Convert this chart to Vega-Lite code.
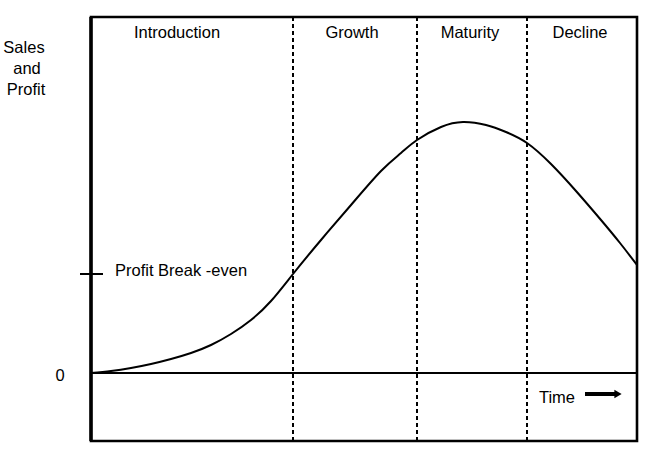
{
  "$schema": "https://vega.github.io/schema/vega-lite/v6.json",
  "width": 546,
  "height": 424,
  "autosize": "none",
  "padding": {"left": 91, "top": 17, "right": 13, "bottom": 21},
  "background": "white",
  "config": {"view": {"stroke": "black", "strokeWidth": 2.6}, "font": "Liberation Sans"},
  "datasets": {
    "curve": [
      {"t": 0, "v": 0}, {"t": 20, "v": 2}, {"t": 40, "v": 5}, {"t": 60, "v": 9},
      {"t": 80, "v": 14}, {"t": 100, "v": 20}, {"t": 120, "v": 28}, {"t": 140, "v": 39},
      {"t": 160, "v": 53}, {"t": 180, "v": 72}, {"t": 202, "v": 99}, {"t": 230, "v": 133},
      {"t": 260, "v": 168}, {"t": 290, "v": 202}, {"t": 310, "v": 220}, {"t": 326, "v": 233},
      {"t": 350, "v": 246}, {"t": 372, "v": 251}, {"t": 395, "v": 248}, {"t": 415, "v": 241},
      {"t": 436, "v": 230}, {"t": 460, "v": 209}, {"t": 485, "v": 182}, {"t": 510, "v": 153},
      {"t": 529, "v": 130}, {"t": 546, "v": 108}
    ],
    "phases": [{"t": 202}, {"t": 326}, {"t": 436}],
    "labels": [
      {"t": 86, "v": 340, "label": "Introduction"},
      {"t": 261, "v": 340, "label": "Growth"},
      {"t": 379, "v": 340, "label": "Maturity"},
      {"t": 489, "v": 340, "label": "Decline"}
    ],
    "side": [
      {"t": -67, "v": 325, "label": "Sales"},
      {"t": -64, "v": 304, "label": "and"},
      {"t": -65, "v": 283, "label": "Profit"},
      {"t": -31, "v": -3, "label": "0"}
    ]
  },
  "encoding": {
    "x": {"field": "t", "type": "quantitative", "scale": {"domain": [0, 546], "nice": false, "zero": false}, "axis": null},
    "y": {"field": "v", "type": "quantitative", "scale": {"domain": [-68, 356], "nice": false, "zero": false}, "axis": null}
  },
  "layer": [
    {
      "data": {"name": "phases"},
      "mark": {"type": "rule", "strokeDash": [4, 3], "strokeWidth": 2, "color": "black"},
      "encoding": {"y": null}
    },
    {
      "data": {"values": [{"v": 0}]},
      "mark": {"type": "rule", "strokeWidth": 2, "color": "black"},
      "encoding": {"x": null}
    },
    {
      "data": {"values": [{"t": 0}]},
      "mark": {"type": "rule", "strokeWidth": 3.5, "color": "black"},
      "encoding": {"y": null}
    },
    {
      "data": {"values": [{"t": -11, "t2": 12, "v": 99}]},
      "mark": {"type": "rule", "strokeWidth": 2, "color": "black", "clip": false},
      "encoding": {"x2": {"field": "t2"}}
    },
    {
      "data": {"name": "curve"},
      "mark": {"type": "line", "interpolate": "natural", "strokeWidth": 2, "color": "black"}
    },
    {
      "data": {"name": "labels"},
      "mark": {"type": "text", "fontSize": 16.5, "align": "center", "baseline": "middle", "color": "black"},
      "encoding": {"text": {"field": "label"}}
    },
    {
      "data": {"name": "side"},
      "mark": {"type": "text", "fontSize": 16.5, "align": "center", "baseline": "middle", "color": "black", "clip": false},
      "encoding": {"text": {"field": "label"}}
    },
    {
      "data": {"values": [{"t": 24, "v": 102, "label": "Profit Break -even"}]},
      "mark": {"type": "text", "fontSize": 16.5, "align": "left", "baseline": "middle", "color": "black"},
      "encoding": {"text": {"field": "label"}}
    },
    {
      "data": {"values": [{"t": 466, "v": -25, "label": "Time"}]},
      "mark": {"type": "text", "fontSize": 16.5, "align": "center", "baseline": "middle", "color": "black"},
      "encoding": {"text": {"field": "label"}}
    },
    {
      "data": {"values": [{"t": 494, "t2": 524, "v": -21}]},
      "mark": {"type": "rule", "strokeWidth": 4, "color": "black"},
      "encoding": {"x2": {"field": "t2"}}
    },
    {
      "data": {"values": [{"t": 527, "v": -21}]},
      "mark": {"type": "point", "shape": "triangle-right", "filled": true, "size": 70, "color": "black", "opacity": 1}
    }
  ]
}
